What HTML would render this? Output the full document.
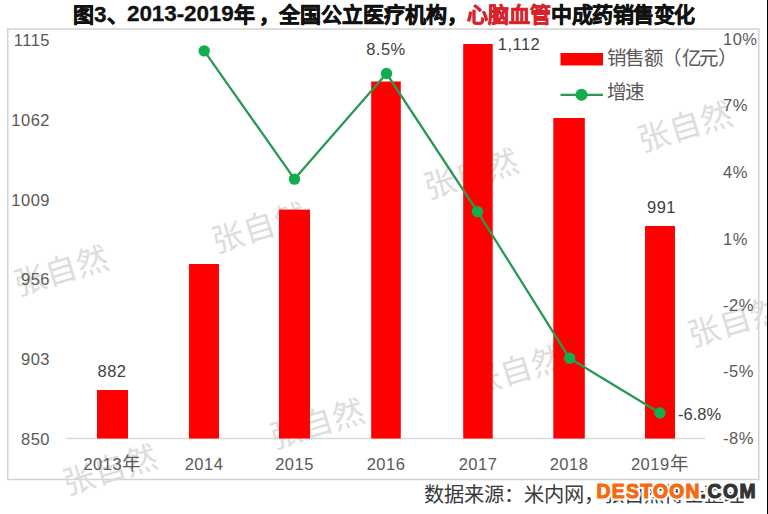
<!DOCTYPE html>
<html lang="zh-CN"><head><meta charset="utf-8">
<style>
html,body{margin:0;padding:0;background:#fff;width:768px;height:514px;overflow:hidden}
svg{display:block}
text{font-family:"Liberation Sans",sans-serif}
.ax{fill:#595959;font-size:16.5px;letter-spacing:0.5px}
.wm{font-family:"Liberation Serif",serif;fill:#dddddd;font-size:32px}
</style></head><body>
<svg width="768" height="514" viewBox="0 0 768 514">
<rect x="0" y="0" width="768" height="514" fill="#fff"/>
<!-- title -->
<g style="font-size:21px;font-weight:bold;fill:#111;stroke:#111;stroke-width:0.6">
<text x="73" y="21.5">图<tspan style="font-size:22.5px;stroke-width:0.3">3</tspan>、</text>
<text x="127" y="21" letter-spacing="-0.1" style="font-size:22.5px;stroke-width:0.3">2013-2019</text>
<text x="233.5" y="21.5">年</text>
<text x="259" y="21.5">，</text>
<text x="279" y="21.5">全国公立医疗机构，</text>
<text x="467" y="21.5" style="fill:#d8232a;stroke:#d8232a">心脑血管</text>
<text x="551" y="21.5" letter-spacing="-0.5">中成药销售变化</text>
</g>
<!-- chart border -->
<rect x="7.75" y="29" width="751" height="450.5" fill="none" stroke="#d2d2d2" stroke-width="1.5"/>
<!-- watermarks -->
<g class="wm">
<text transform="translate(61,271) rotate(-17)" text-anchor="middle" dominant-baseline="central">张自然</text>
<text transform="translate(259,228) rotate(-17)" text-anchor="middle" dominant-baseline="central">张自然</text>
<text transform="translate(471,174) rotate(-17)" text-anchor="middle" dominant-baseline="central">张自然</text>
<text transform="translate(685,127) rotate(-17)" text-anchor="middle" dominant-baseline="central">张自然</text>
<text transform="translate(317,424) rotate(-17)" text-anchor="middle" dominant-baseline="central">张自然</text>
<text transform="translate(516,371) rotate(-17)" text-anchor="middle" dominant-baseline="central">张自然</text>
<text transform="translate(735,322) rotate(-17)" text-anchor="middle" dominant-baseline="central">张自然</text>
<text transform="translate(110,470) rotate(-17)" text-anchor="middle" dominant-baseline="central">张自然</text>
</g>
<!-- axis line -->
<line x1="66" y1="438.5" x2="705" y2="438.5" stroke="#d9d9d9" stroke-width="1.5"/>
<!-- left axis labels -->
<g class="ax" text-anchor="end">
<text x="50" y="46">1115</text>
<text x="50" y="125.7">1062</text>
<text x="50" y="205.5">1009</text>
<text x="50" y="285.2">956</text>
<text x="50" y="365">903</text>
<text x="50" y="444.7">850</text>
</g>
<g class="ax">
<text x="723" y="45">10%</text>
<text x="723" y="111.4">7%</text>
<text x="723" y="178">4%</text>
<text x="723" y="244.5">1%</text>
<text x="723" y="311">-2%</text>
<text x="723" y="377.4">-5%</text>
<text x="723" y="443.8">-8%</text>
</g>
<!-- x labels -->
<g class="ax" text-anchor="middle">
<text x="112.5" y="469.5">2013<tspan style="font-size:18.5px">年</tspan></text>
<text x="204" y="469.5">2014</text>
<text x="294.5" y="469.5">2015</text>
<text x="386" y="469.5">2016</text>
<text x="478" y="469.5">2017</text>
<text x="569" y="469.5">2018</text>
<text x="660" y="469.5">2019<tspan style="font-size:18.5px">年</tspan></text>
</g>
<!-- bars -->
<g fill="#ff0000">
<rect x="97" y="390" width="31" height="48.5"/>
<rect x="189" y="264" width="30" height="174.5"/>
<rect x="279" y="209.6" width="31" height="228.9"/>
<rect x="371.2" y="81.5" width="29.6" height="357"/>
<rect x="463.2" y="44" width="29.5" height="394.5"/>
<rect x="553.3" y="118" width="31.5" height="320.5"/>
<rect x="645" y="226" width="30" height="212.5"/>
</g>
<!-- data labels -->
<g class="ax" style="fill:#404040">
<text x="112" y="376.5" text-anchor="middle">882</text>
<text x="661.5" y="213" text-anchor="middle">991</text>
<text x="519" y="50" text-anchor="middle">1,112</text>
<text x="386" y="54.5" text-anchor="middle">8.5%</text>
<text x="678" y="419.5" letter-spacing="0">-6.8%</text>
</g>
<!-- line -->
<polyline points="204.2,50.9 294.5,179.1 386.5,73.5 477.5,211.6 569.6,358.3 659.9,413" fill="none" stroke="#2a9855" stroke-width="2.3" stroke-linejoin="round"/>
<g fill="#12ae4e">
<circle cx="204.2" cy="50.9" r="5.7"/>
<circle cx="294.5" cy="179.1" r="5.7"/>
<circle cx="386.5" cy="73.5" r="5.7"/>
<circle cx="477.5" cy="211.6" r="5.7"/>
<circle cx="569.6" cy="358.3" r="5.7"/>
<circle cx="659.9" cy="413" r="5.7"/>
</g>
<!-- legend -->
<rect x="560.5" y="53" width="42.5" height="12.5" fill="#ff0000"/>
<g style="font-size:19.5px;fill:#595959">
<text y="65.3"><tspan x="606.5">销</tspan><tspan x="624.8">售</tspan><tspan x="643.5">额</tspan><tspan x="662">（</tspan><tspan x="682">亿</tspan><tspan x="699.3">元</tspan><tspan x="718">）</tspan></text>
<text y="98.5"><tspan x="607.3">增</tspan><tspan x="624.5">速</tspan></text>
</g>
<line x1="560.5" y1="94.8" x2="603" y2="94.8" stroke="#2a9855" stroke-width="2.3"/>
<circle cx="581.5" cy="94.8" r="6.1" fill="#12ae4e"/>
<!-- source -->
<text x="423.5" y="502" style="font-family:'Liberation Serif',serif;font-size:20.3px;fill:#3a3a3a">数据来源：米内网，张自然博士整理</text>
<!-- destoon watermark -->
<g style="font-family:'Liberation Sans',sans-serif;font-weight:bold;font-size:19.3px">
<text x="596.5" y="498" letter-spacing="1.33" fill="#fff" stroke="#fff" stroke-width="5" stroke-linejoin="round">DESTOON</text>
<text x="700.5" y="498" letter-spacing="1.6" fill="#fff" stroke="#fff" stroke-width="5" stroke-linejoin="round">.COM</text>
<text x="596.5" y="498" letter-spacing="1.33" fill="#f7690e" stroke="#f7690e" stroke-width="1.1">DESTOON</text>
<text x="700.5" y="498" letter-spacing="1.6" fill="#333" stroke="#333" stroke-width="1.1">.COM</text>
</g>
<rect x="767" y="0" width="1" height="514" fill="#000"/>
</svg>
</body></html>
